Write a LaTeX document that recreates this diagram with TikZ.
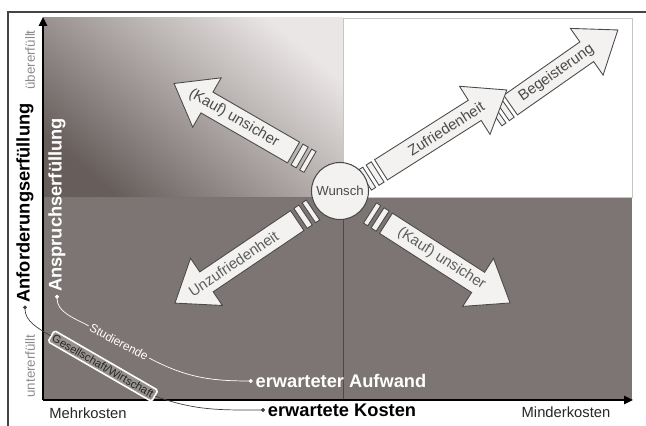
\documentclass[tikz,border=0pt]{standalone}
\usepackage{fontspec}
\setmainfont{Liberation Sans}
\usetikzlibrary{arrows.meta,positioning}
\definecolor{darkfield}{HTML}{7C7573}
\definecolor{gradlight}{HTML}{EAE6E5}
\definecolor{gradmid}{HTML}{C6BFBD}
\definecolor{graddark}{HTML}{675E5C}
\definecolor{arrowfill}{HTML}{F4F2F1}
\definecolor{outline}{HTML}{4A4A4A}
\definecolor{labelgray}{HTML}{8C8C8C}
\definecolor{lowtext}{HTML}{5E5E5E}
\definecolor{framegray}{HTML}{444444}

\newcommand{\fatarrow}[7]{%
  \begin{scope}[shift={#2}, rotate=#3]
    \filldraw[bigarrow] (0,-0.24) rectangle (0.10,0.24);
    \filldraw[bigarrow] (0.18,-0.24) rectangle (0.30,0.24);
    \filldraw[bigarrow] (0.38,-0.24) -- ({#4-0.76},-0.24) -- ({#4-0.76},-0.57)
      -- (#4,0) -- ({#4-0.76},0.57) -- ({#4-0.76},0.24) -- (0.38,0.24) -- cycle;
    \node[arrowlabel, #6] (#1) at (#5,0) {#7};
  \end{scope}}

\begin{document}
\begin{tikzpicture}[
  axis/.style={line width=1.6pt, -{Triangle[length=5pt,width=4.5pt]}},
  bigarrow/.style={fill=arrowfill, draw=outline, line width=0.5pt},
  arrowlabel/.style={text=outline, inner sep=1pt, font=\fontsize{8.5}{10}\selectfont},
  wish/.style={circle, draw=outline, line width=0.6pt, fill=arrowfill, text=outline, minimum size=1.14cm, inner sep=0pt, font=\fontsize{7.5}{9}\selectfont},
  axisbold/.style={inner sep=1.5pt, font=\fontsize{10.4}{12}\selectfont\bfseries},
  smallgray/.style={text=labelgray, inner sep=1pt, font=\fontsize{7.6}{9}\selectfont},
  costlabel/.style={text=black!85, inner sep=1pt, font=\fontsize{8.4}{10}\selectfont},
  groupbox/.style={draw=white, line width=0.9pt, fill=darkfield!80!white, rounded corners=1pt, text=black!85, inner sep=1.3pt, font=\fontsize{6.4}{7}\selectfont},
  studlabel/.style={text=white, inner sep=1pt, font=\fontsize{6.8}{8}\selectfont},
  linkdark/.style={draw=black!75, line width=0.4pt},
  linkwhite/.style={draw=white, line width=0.4pt},
  dotstart/.style={{Circle[length=2.2pt]}-},
  dotend/.style={-{Circle[length=2.2pt]}}
]
  \useasboundingbox (0,0) rectangle (12.92,8.52);
  \draw[framegray, line width=0.6pt] (12.92,8.28) -- (0.16,8.28) -- (0.16,0);

  \fill[darkfield] (0.86,0.52) rectangle (12.64,4.58);
  \shade[top color=gradlight, middle color=gradmid, bottom color=graddark, shading angle=-40] (0.86,4.58) rectangle (6.86,8.16);
  \draw[gray!45, line width=0.4pt] (6.86,4.58) rectangle (12.64,8.16);
  \draw[black!55, densely dotted, line width=0.4pt] (0.86,4.58) -- (6.86,4.58);
  \draw[outline, line width=0.4pt] (6.86,0.52) -- (6.86,4.58);

  \coordinate (o) at (0.86,0.52);
  \coordinate (ytip) at (0.86,8.18);
  \coordinate (xtip) at (12.66,0.52);
  \draw[axis] (o) -- (ytip);
  \draw[axis] (o) -- (xtip);

  \fatarrow{kaufup}{(6.20,5.28)}{150}{3.14}{1.76}{rotate=-30}{(Kauf) unsicher}
  \fatarrow{begeist}{(9.90,6.20)}{35}{3.0}{1.5}{rotate=35}{Begeisterung}
  \fatarrow{zufrieden}{(7.30,4.92)}{32.4}{3.36}{1.92}{rotate=32.4}{Zufriedenheit}
  \fatarrow{unzufrieden}{(6.26,4.32)}{214}{3.33}{1.92}{rotate=34, text=lowtext}{Unzufriedenheit}
  \fatarrow{kaufdown}{(7.40,4.26)}{-32.7}{3.33}{1.7}{rotate=-32.7, text=lowtext}{(Kauf) unsicher}

  \node[wish] (wunsch) at (6.80,4.70) {Wunsch};

  \node[axisbold, rotate=90] (anforderung) at (0.50,4.46) {Anforderungserfüllung};
  \node[smallgray, rotate=90] (ueber) at (0.60,7.32) {übererfüllt};
  \node[smallgray, rotate=90] (unter) at (0.60,1.20) {untererfüllt};
  \node[axisbold, text=white, rotate=90] (anspruch) at (1.14,4.42) {Anspruchserfüllung};
  \node[axisbold, text=white] (aufwand) at (6.82,0.90) {erwarteter Aufwand};
  \node[axisbold] (kosten) at (6.84,0.32) {erwartete Kosten};
  \node[costlabel] (mehr) at (1.76,0.26) {Mehrkosten};
  \node[costlabel] (minder) at (11.32,0.28) {Minderkosten};
  \node[groupbox, rotate=-30] (gesell) at (2.06,1.20) {Gesellschaft/Wirtschaft};
  \node[studlabel, rotate=-28] (stud) at (2.38,1.68) {Studierende};

  \draw[linkdark, dotstart] (anforderung.west) to[out=-90, in=150] (gesell.west);
  \draw[linkdark, dotend] (gesell.east) to[out=-20, in=180] (kosten.west);
  \draw[linkwhite, dotstart] (anspruch.west) to[out=-90, in=152] (stud.west);
  \draw[linkwhite, dotend] (stud.east) to[out=-28, in=180] (aufwand.west);
\end{tikzpicture}
\end{document}
